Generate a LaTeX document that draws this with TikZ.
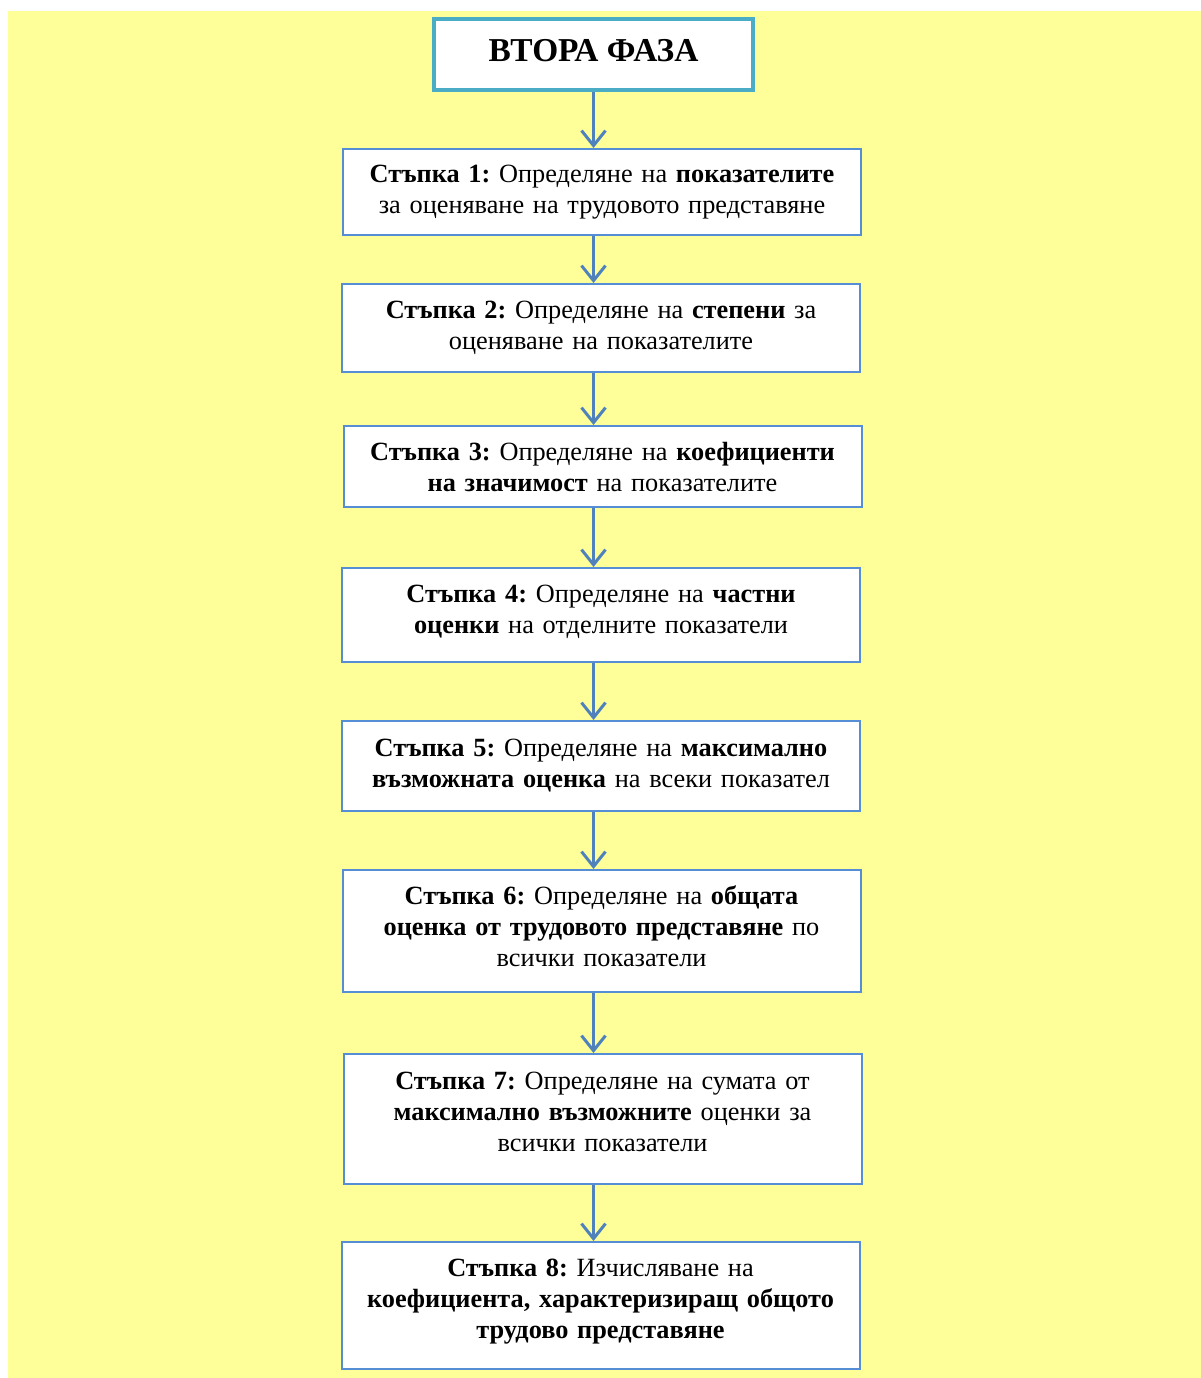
\documentclass[tikz,border=0pt]{standalone}
\usepackage{fontspec}
\setmainfont{Liberation Serif}
\usetikzlibrary{arrows.meta}
\frenchspacing
\definecolor{bgyellow}{RGB}{255,255,153}
\definecolor{boxblue}{RGB}{85,142,213}
\definecolor{arrowblue}{RGB}{79,129,189}
\definecolor{phaseteal}{RGB}{75,172,198}
\begin{document}
\begin{tikzpicture}[x=1pt, y=-1pt,
        phasebox/.style={draw=phaseteal, line width=4pt, fill=white, minimum width=319pt, minimum height=71pt, text depth=8pt, font=\fontsize{33.4}{38}\selectfont\bfseries},
        stepbox/.style={draw=boxblue, line width=2pt, fill=white, minimum width=518pt, text width=490pt, align=center, font=\fontsize{26.3}{31}\selectfont},
        flow/.style={arrowblue, line width=3pt, -{Straight Barb[length=15pt, width=24pt]}}]
            \useasboundingbox (0,0) rectangle (1201,1378);
            \fill[bgyellow] (8,11) rectangle (1201,1378);

            \node[phasebox] (ttl) at (593.5,54.5) {ВТОРА ФАЗА};

            \node[stepbox, minimum height=86pt] (s1) at (602,192) {\textbf{Стъпка 1:} Определяне на \textbf{показателите}\\ за оценяване на трудовото представяне};
            \node[stepbox, minimum height=88pt, text depth=36pt] (s2) at (601,328) {\textbf{Стъпка 2:} Определяне на \textbf{степени} за\\ оценяване на показателите};
            \node[stepbox, minimum height=81pt] (s3) at (602.5,466.5) {\textbf{Стъпка 3:} Определяне на \textbf{коефициенти}\\ \textbf{на значимост} на показателите};
            \node[stepbox, minimum height=94pt, text depth=42.5pt] (s4) at (601,615) {\textbf{Стъпка 4:} Определяне на \textbf{частни}\\ \textbf{оценки} на отделните показатели};
            \node[stepbox, minimum height=90pt] (s5) at (601,766) {\textbf{Стъпка 5:} Определяне на \textbf{максимално}\\ \textbf{възможната оценка} на всеки показател};
            \node[stepbox, minimum height=122pt, text depth=72pt] (s6) at (601.5,931) {\textbf{Стъпка 6:} Определяне на \textbf{общата}\\ \textbf{оценка от трудовото представяне} по\\ всички показатели};
            \node[stepbox, minimum height=130pt, text depth=76pt] (s7) at (602.5,1119) {\textbf{Стъпка 7:} Определяне на сумата от\\ \textbf{максимално възможните} оценки за\\ всички показатели};
            \node[stepbox, minimum height=127pt, text depth=75.5pt] (s8) at (600.5,1305.5) {\textbf{Стъпка 8:} Изчисляване на\\ \textbf{коефициента, характеризиращ общото}\\ \textbf{трудово представяне}};

            \draw[flow] (ttl.south) -- (s1.north -| ttl.south);
            \draw[flow] (s1.south -| ttl.south) -- (s2.north -| ttl.south);
            \draw[flow] (s2.south -| ttl.south) -- (s3.north -| ttl.south);
            \draw[flow] (s3.south -| ttl.south) -- (s4.north -| ttl.south);
            \draw[flow] (s4.south -| ttl.south) -- (s5.north -| ttl.south);
            \draw[flow] (s5.south -| ttl.south) -- (s6.north -| ttl.south);
            \draw[flow] (s6.south -| ttl.south) -- (s7.north -| ttl.south);
            \draw[flow] (s7.south -| ttl.south) -- (s8.north -| ttl.south);
        \end{tikzpicture}
\end{document}
